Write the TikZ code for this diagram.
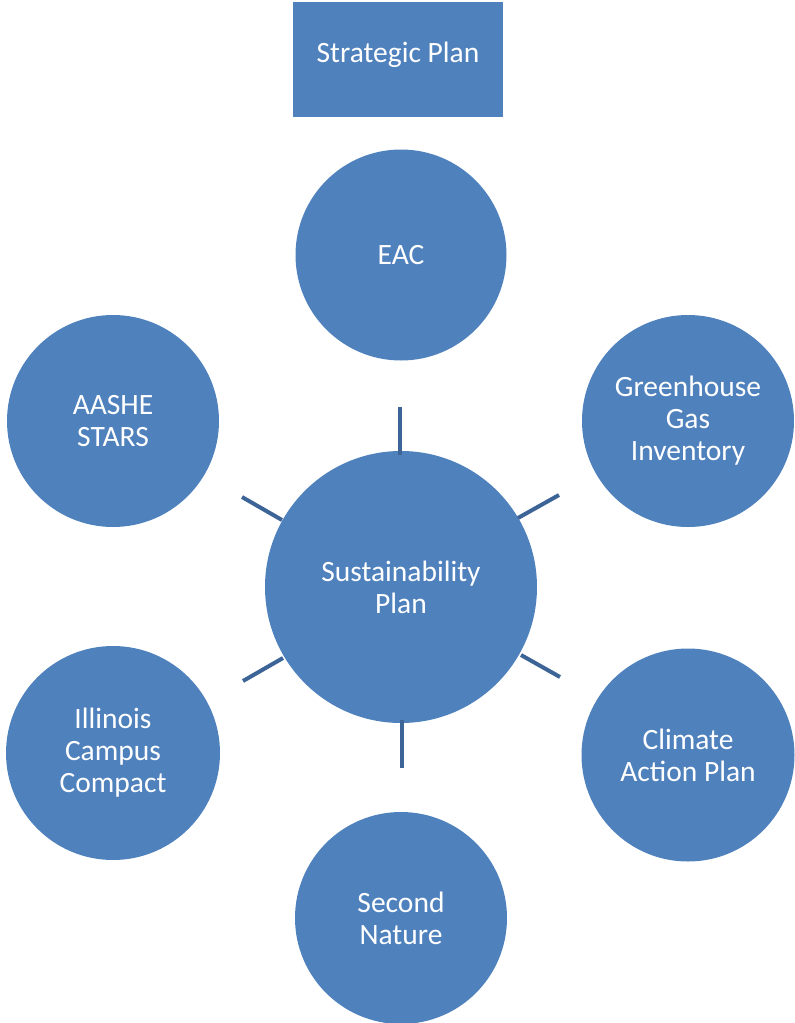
\documentclass[tikz,border=0pt]{standalone}
\usepackage{fontspec}
\setmainfont{Carlito}
\definecolor{boxblue}{HTML}{4F81BD}
\definecolor{spoke}{HTML}{3D6497}
\begin{document}
\begin{tikzpicture}[x=1pt,y=-1pt,
  bubble/.style={circle,fill=boxblue,text=white,align=center,inner sep=0pt,font=\fontsize{29.5}{32}\selectfont},
  rectbox/.style={rectangle,fill=boxblue,text=white,align=center,inner sep=0pt,font=\fontsize{29.5}{32}\selectfont},
  spokeline/.style={draw=spoke,line width=4pt}]
\useasboundingbox (0,0) rectangle (795,1023);
\node[rectbox,minimum width=210pt,minimum height=115pt] (sp) at (398,59.5) {};
\node (spt) at (398,55) [text=white,inner sep=0pt,font=\fontsize{29.5}{32}\selectfont] {Strategic Plan};
\node[bubble,minimum size=211pt] (eac) at (401,255) {EAC};
\node[bubble,minimum size=212pt] (ghg) at (688,421) {Greenhouse\\Gas\\Inventory};
\node[bubble,minimum size=212pt] (aashe) at (113,421) {AASHE\\STARS};
\node[bubble,minimum size=272pt] (sus) at (401,587) {Sustainability\\Plan};
\node[bubble,minimum size=214pt] (ill) at (113,753) {Illinois\\Campus\\Compact};
\node[bubble,minimum size=213pt] (cap) at (688,755) {Climate\\Action Plan};
\node[bubble,minimum size=212pt] (sn) at (401,918) {Second\\Nature};
\coordinate (t1) at (400,407); \coordinate (t2) at (400,455);
\coordinate (b1) at (402,720); \coordinate (b2) at (402,768);
\coordinate (ul1) at (242,497); \coordinate (ul2) at (282,520);
\coordinate (ur1) at (559,495); \coordinate (ur2) at (518,518);
\coordinate (ll1) at (243,681); \coordinate (ll2) at (283,658);
\coordinate (lr1) at (521,655); \coordinate (lr2) at (560,677);
\draw[spokeline] (t1) -- (t2);
\draw[spokeline] (b1) -- (b2);
\draw[spokeline] (ul1) -- (ul2);
\draw[spokeline] (ur1) -- (ur2);
\draw[spokeline] (ll1) -- (ll2);
\draw[spokeline] (lr1) -- (lr2);
\end{tikzpicture}
\end{document}
